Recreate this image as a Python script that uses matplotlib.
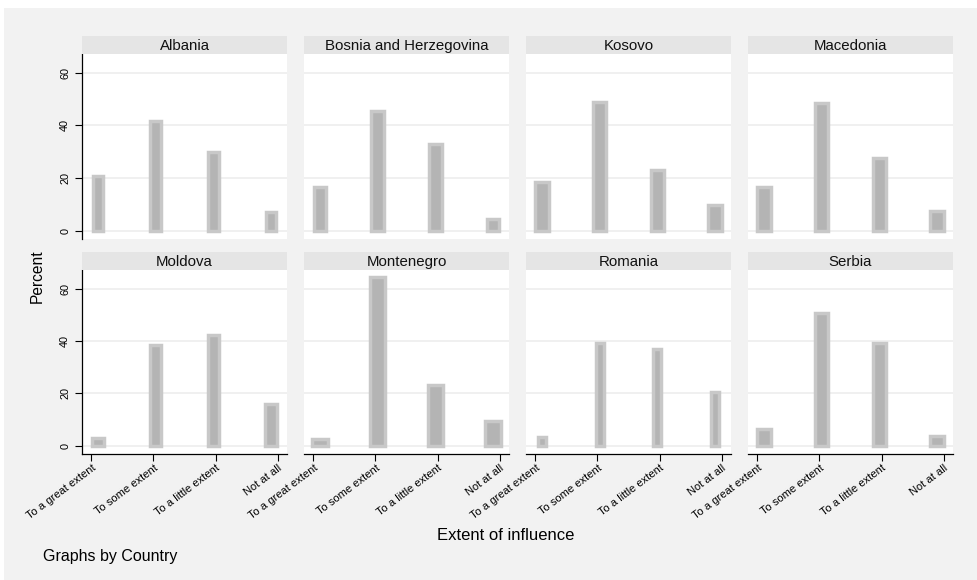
import matplotlib
matplotlib.use("Agg")
import matplotlib.pyplot as plt
from matplotlib.patches import Rectangle

plt.rcParams['font.family'] = ['Liberation Sans', 'DejaVu Sans']

countries = ["Albania", "Bosnia and Herzegovina", "Kosovo", "Macedonia",
             "Moldova", "Montenegro", "Romania", "Serbia"]
categories = ["To a great extent", "To some extent", "To a little extent", "Not at all"]
cat_pos = [1, 2, 3, 4]
percent = {
    "Albania":                [20.9, 41.7, 29.8, 7.3],
    "Bosnia and Herzegovina": [16.8, 45.4, 33.1, 4.4],
    "Kosovo":                 [18.4, 48.8, 22.9, 9.9],
    "Macedonia":              [16.5, 48.5, 27.5, 7.6],
    "Moldova":                [3.0, 38.6, 42.4, 16.0],
    "Montenegro":             [2.7, 64.4, 23.4, 9.5],
    "Romania":                [3.2, 39.2, 37.1, 20.6],
    "Serbia":                 [6.5, 50.6, 39.2, 3.8],
}
y_ticks = [0, 20, 40, 60]

# style: bar width per panel (data units) and inward shrink of bar centres
bar_widths = [0.17, 0.20, 0.21, 0.21, 0.18, 0.25, 0.125, 0.21]
bar_shrink = 0.93

W, H = 978, 580
fig = plt.figure(figsize=(W / 100, H / 100), dpi=100)
fig.patch.set_facecolor('white')
fig.patches.append(Rectangle((4 / W, 0), 1 - 4 / W, 1 - 8 / H, transform=fig.transFigure,
                             facecolor='#f2f2f2', edgecolor='none', zorder=-10))

col_x = [82, 304, 526, 748]
pw = 205
rows = [(36, 54, 239), (252, 270, 454)]  # strip top, plot top, plot bottom

def fx(px):
    return px / W

def fy(py):
    return 1 - py / H

mid = (cat_pos[0] + cat_pos[-1]) / 2
bar_x = [mid + (p - mid) * bar_shrink for p in cat_pos]

for i, c in enumerate(countries):
    r, col = divmod(i, 4)
    st, pt, pb = rows[r]
    x0 = col_x[col]
    ax = fig.add_axes([fx(x0), fy(pb), pw / W, (pb - pt) / H])
    sax = fig.add_axes([fx(x0), fy(pt), pw / W, (pt - st) / H])
    sax.set_facecolor('#e5e5e5')
    sax.set_xticks([]); sax.set_yticks([])
    for s in sax.spines.values():
        s.set_visible(False)
    sax.text(0.5, 0.47, c, ha='center', va='center', fontsize=10.8, color='#111111',
             transform=sax.transAxes)

    ax.set_facecolor('white')
    for yv in y_ticks:
        ax.axhline(yv, color='#efefef', lw=1.3, zorder=0)
    ax.bar(bar_x, percent[c], width=bar_widths[i], color='#b4b4b4',
           edgecolor='#c8c8c8', linewidth=2.5, zorder=2)
    ax.set_xlim(0.847, 4.153)
    ax.set_ylim(-3.1, 67.1)
    for s in ['top', 'right']:
        ax.spines[s].set_visible(False)
    ax.spines['left'].set_visible(col == 0)
    ax.spines['bottom'].set_visible(r == 1)
    ax.spines['left'].set_linewidth(0.9)
    ax.spines['bottom'].set_linewidth(0.9)

    if col == 0:
        ax.set_yticks(y_ticks)
        ax.set_yticklabels([str(v) for v in y_ticks], rotation=90, va='center', fontsize=7.8)
        ax.tick_params(axis='y', length=5, width=0.8, pad=3.5, colors='black')
    else:
        ax.set_yticks([])
    if r == 1:
        ax.set_xticks(cat_pos)
        ax.set_xticklabels(categories, rotation=37, ha='right', va='top',
                           rotation_mode='anchor', fontsize=8)
        ax.tick_params(axis='x', length=5, width=0.8, pad=1.5, colors='black')
    else:
        ax.set_xticks([])

fig.text(fx(37), fy(276), "Percent", rotation=90, ha='center', va='center', fontsize=11.2)
fig.text(fx(506), fy(535), "Extent of influence", ha='center', va='center', fontsize=12)
fig.text(fx(43), fy(557), "Graphs by Country", ha='left', va='center', fontsize=11.5)

fig.savefig("out.png", dpi=100, facecolor=fig.get_facecolor())
